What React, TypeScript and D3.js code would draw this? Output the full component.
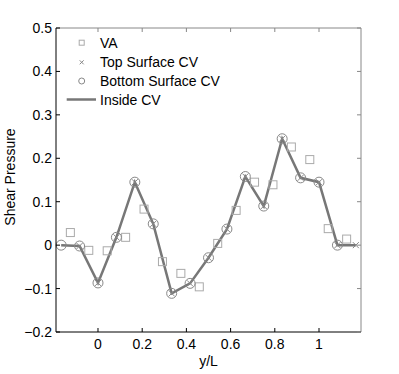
import React from "react";
import * as d3 from "d3";

// VA samples sit half-way between the CV stations
const vaX = [-1.5, -0.5, 0.5, 1.5, 2.5, 3.5, 4.5, 5.5, 6.5, 7.5, 8.5, 9.5, 10.5, 11.5, 12.5, 13.5].map((i) => i / 12);
const vaY = [0.029, -0.012, -0.013, 0.018, 0.083, -0.038, -0.065, -0.096, 0.004, 0.08, 0.145, 0.139, 0.226, 0.197, 0.038, 0.014];

const cvX = [-2, -1, 0, 1, 2, 3, 4, 5, 6, 7, 8, 9, 10, 11, 12, 13, 14].map((i) => i / 12);
const insideY = [0, -0.002, -0.087, 0.018, 0.145, 0.049, -0.111, -0.088, -0.029, 0.037, 0.158, 0.09, 0.245, 0.155, 0.145, 0, 0];
// indices into cvX / insideY
const topIdx = [1, 2, 3, 4, 5, 6, 7, 8, 9, 10, 11, 12, 13, 14, 15, 16];
const bottomIdx = [0, 1, 2, 3, 4, 5, 6, 7, 8, 9, 10, 11, 12, 13, 14, 15];

const xTicks = [0, 0.2, 0.4, 0.6, 0.8, 1];
const yTicks = [-0.2, -0.1, 0, 0.1, 0.2, 0.3, 0.4, 0.5];
const legendNames = ["VA", "Top Surface CV", "Bottom Surface CV", "Inside CV"];

const W = 399;
const H = 374;
const m = { left: 56, right: 361, top: 28, bottom: 332 };
const font = "'Liberation Sans', Arial, Helvetica, sans-serif";

const App = () => {
  const x = d3.scaleLinear().domain([-0.19, 1.19]).range([m.left, m.right]);
  const y = d3.scaleLinear().domain([-0.2, 0.5]).range([m.bottom, m.top]);
  const line = d3
    .line<number>()
    .x((d, i) => x(cvX[i]))
    .y((d) => y(d));

  const square = (cx: number, cy: number, k: string, s = 4) => (
    <rect key={k} x={cx - s} y={cy - s} width={2 * s} height={2 * s} fill="none" stroke="#aaa" strokeWidth={1} />
  );
  const cross = (cx: number, cy: number, k: string, s = 3) => (
    <path key={k} d={`M${cx - s},${cy - s}L${cx + s},${cy + s}M${cx - s},${cy + s}L${cx + s},${cy - s}`} stroke="#888" strokeWidth={1} />
  );
  const circle = (cx: number, cy: number, k: string, r = 5) => (
    <circle key={k} cx={cx} cy={cy} r={r} fill="none" stroke="#888" strokeWidth={1} />
  );

  return (
    <svg width={W} height={H} style={{ position: "absolute", left: 0, top: 0, background: "#fff" }} fontFamily={font}>
      <rect width={W} height={H} fill="#fff" />

      <path d={line(insideY) || ""} fill="none" stroke="#777" strokeWidth={2.5} strokeLinejoin="miter" />
      {vaX.map((v, i) => square(x(v), y(vaY[i]), "va" + i))}
      {topIdx.map((j) => cross(x(cvX[j]), y(insideY[j]), "t" + j))}
      {bottomIdx.map((j) => circle(x(cvX[j]), y(insideY[j]), "b" + j))}

      {/* frame: top & right grey, left & bottom black */}
      <line x1={m.left} x2={m.right} y1={m.top} y2={m.top} stroke="#888" strokeWidth={1} />
      <line x1={m.right} x2={m.right} y1={m.top} y2={m.bottom} stroke="#888" strokeWidth={1} />
      <line x1={m.left} x2={m.right} y1={m.bottom} y2={m.bottom} stroke="#000" strokeWidth={1} />
      <line x1={m.left} x2={m.left} y1={m.top} y2={m.bottom} stroke="#000" strokeWidth={1} />

      {xTicks.map((t) => (
        <g key={"xt" + t}>
          <line x1={x(t)} x2={x(t)} y1={m.bottom} y2={m.bottom - 4} stroke="#000" />
          <line x1={x(t)} x2={x(t)} y1={m.top} y2={m.top + 4} stroke="#888" />
          <text x={x(t)} y={349} fontSize={14} textAnchor="middle">
            {t}
          </text>
        </g>
      ))}
      {yTicks.map((t) => (
        <g key={"yt" + t}>
          <line x1={m.left} x2={m.left + 4} y1={y(t)} y2={y(t)} stroke="#000" />
          <line x1={m.right} x2={m.right - 4} y1={y(t)} y2={y(t)} stroke="#888" />
          <text x={52} y={y(t) + 5} fontSize={14} textAnchor="end">
            {t < 0 ? "\u2212" + Math.abs(t) : t}
          </text>
        </g>
      ))}

      <text x={(m.left + m.right) / 2} y={366} fontSize={14} textAnchor="middle">
        y/L
      </text>
      <text transform="translate(15,177) rotate(-90)" fontSize={14} textAnchor="middle">
        Shear Pressure
      </text>

      {/* legend */}
      <g>
        {square(81.7, 42.7, "l0", 2.5)}
        {cross(81.7, 62.3, "l1", 2)}
        {circle(81.7, 81, "l2", 3)}
        <line x1={66.7} x2={96} y1={99.5} y2={99.5} stroke="#777" strokeWidth={2.5} />
        {legendNames.map((n, i) => (
          <text key={n} x={100} y={48 + i * 19} fontSize={14}>
            {n}
          </text>
        ))}
      </g>
    </svg>
  );
};

export default App;
